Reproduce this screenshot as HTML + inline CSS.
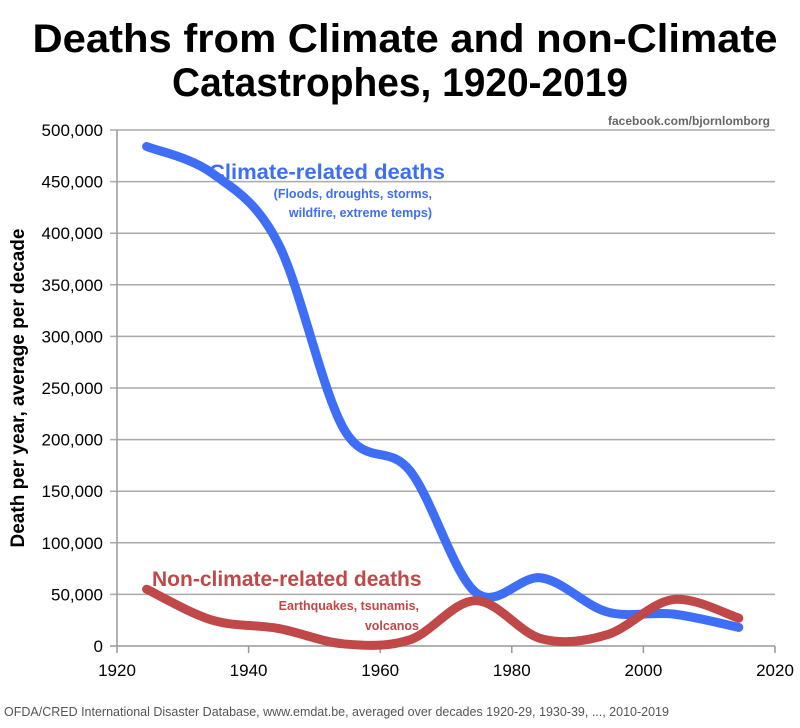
<!DOCTYPE html>
<html><head><meta charset="utf-8"><style>
body{margin:0;background:#fff;width:800px;height:723px;overflow:hidden;font-family:"Liberation Sans",sans-serif}
</style></head><body>
<svg id="s" width="800" height="723" xmlns="http://www.w3.org/2000/svg" font-family="Liberation Sans, sans-serif">
<text x="405" y="52" text-anchor="middle" font-size="40" font-weight="bold" textLength="745" lengthAdjust="spacingAndGlyphs">Deaths from Climate and non-Climate</text>
<text x="400" y="96" text-anchor="middle" font-size="40" font-weight="bold" textLength="456" lengthAdjust="spacingAndGlyphs">Catastrophes, 1920-2019</text>
<text x="770" y="125" text-anchor="end" font-size="12" font-weight="bold" fill="#666">facebook.com/bjornlomborg</text>
<g id="grid" stroke="#999" stroke-width="1.5"></g>
<g id="lbl" font-size="17" fill="#000"></g>
<text transform="translate(24,388) rotate(-90)" text-anchor="middle" font-size="19" font-weight="bold">Death per year, average per decade</text>
<path id="pc" fill="none" stroke="#3d6ef5" stroke-width="9" stroke-linecap="round"/>
<path id="pn" fill="none" stroke="#c04848" stroke-width="9" stroke-linecap="round"/>
<text x="327" y="179" text-anchor="middle" font-size="21" font-weight="bold" fill="#3d6ef5" textLength="236" lengthAdjust="spacingAndGlyphs">Climate-related deaths</text>
<text x="432" y="198" text-anchor="end" font-size="12.5" font-weight="bold" fill="#3d6ef5">(Floods, droughts, storms,</text>
<text x="432" y="217" text-anchor="end" font-size="12.5" font-weight="bold" fill="#3d6ef5">wildfire, extreme temps)</text>
<text x="152" y="586" font-size="21" font-weight="bold" fill="#c04848">Non-climate-related deaths</text>
<text x="419" y="610" text-anchor="end" font-size="12.5" font-weight="bold" fill="#c04848">Earthquakes, tsunamis,</text>
<text x="419" y="630" text-anchor="end" font-size="12.5" font-weight="bold" fill="#c04848">volcanos</text>
<text x="4" y="716" font-size="12.5" fill="#555">OFDA/CRED International Disaster Database, www.emdat.be, averaged over decades 1920-29, 1930-39, ..., 2010-2019</text>
</svg>
<script>
var X0=117,X1=775,Y0=646,Y5=130;
function X(y){return X0+(y-1920)*(X1-X0)/100}
function Y(v){return Y0-(v/500000)*(Y0-Y5)}
var g=document.getElementById('grid'),l=document.getElementById('lbl'),ns='http://www.w3.org/2000/svg';
function el(p,t,a,txt){var e=document.createElementNS(ns,t);for(var k in a)e.setAttribute(k,a[k]);if(txt!==undefined)e.textContent=txt;p.appendChild(e);return e}
for(var i=0;i<=10;i++){var y=Y(i*50000);
 el(g,'line',{x1:X0-7,x2:X1,y1:y,y2:y,stroke:i==0?'#999':'#aaa'});
 el(l,'text',{x:X0-14,y:y+6,'text-anchor':'end'},i==0?'0':(i*50000).toLocaleString('en-US'));}
el(g,'line',{x1:X0,x2:X0,y1:Y5,y2:Y0});
for(var yr=1920;yr<=2020;yr+=20){var x=X(yr);el(g,'line',{x1:x,x2:x,y1:Y0,y2:Y0+7});el(l,'text',{x:x,y:Y0+30,'text-anchor':'middle'},yr);}
function path(d){var p=d.map(function(v,i){return[X(1924.5+10*i),Y(v)]});var s='M'+p[0][0]+','+p[0][1];
 for(var i=0;i<p.length-1;i++){var a=p[i-1]||p[i],b=p[i],c=p[i+1],e=p[i+2]||c;
 s+=' C'+(b[0]+(c[0]-a[0])/6)+','+(b[1]+(c[1]-a[1])/6)+' '+(c[0]-(e[0]-b[0])/6)+','+(c[1]-(e[1]-b[1])/6)+' '+c[0]+','+c[1];}return s}
document.getElementById('pc').setAttribute('d',path([484000,458000,390000,210000,170000,52000,66000,33000,31000,18000]));
document.getElementById('pn').setAttribute('d',path([55000,25000,17000,2000,6000,44000,7000,11000,45000,27000]));
</script>
</body></html>
